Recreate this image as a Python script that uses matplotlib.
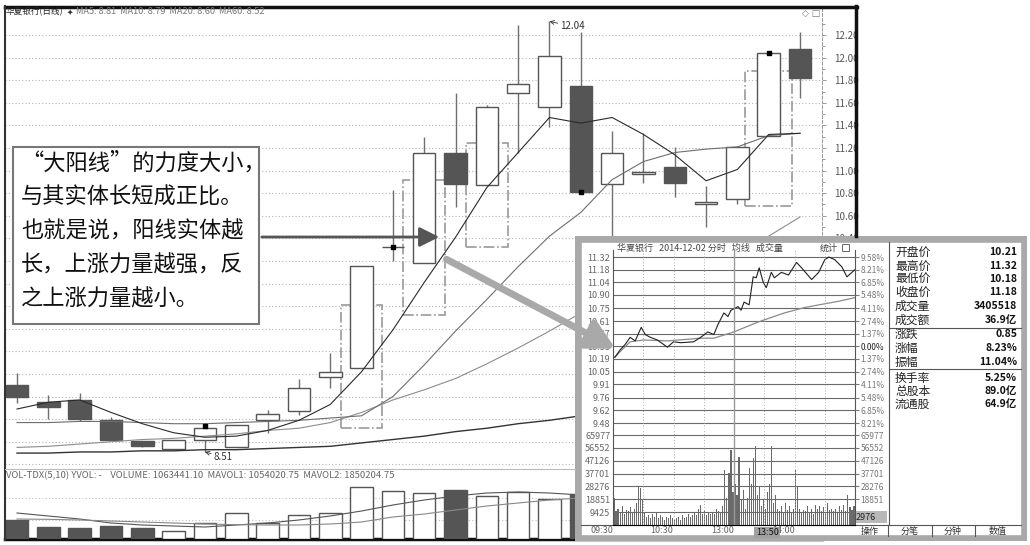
import numpy as np
import matplotlib.pyplot as plt
from matplotlib.patches import Rectangle, FancyArrowPatch

plt.rcParams['font.family'] = ['Noto Sans CJK SC', 'DejaVu Sans']
plt.rcParams['axes.unicode_minus'] = False

W, H = 1030, 545

# 华夏银行 日线
opens  = [9.10, 8.95, 8.97, 8.79, 8.61, 8.54, 8.62, 8.55, 8.79, 8.87, 9.17, 9.25, 10.32,
          10.18, 11.16, 10.87, 11.69, 11.56, 11.75, 10.88, 10.97, 11.03, 10.70, 10.75, 11.31, 12.08]
closes = [9.00, 8.91, 8.80, 8.62, 8.56, 8.62, 8.72, 8.75, 8.85, 9.08, 9.22, 10.16, 10.32,
          11.16, 10.88, 11.56, 11.77, 12.01, 10.81, 11.16, 10.99, 10.89, 10.72, 11.21, 12.04, 11.82]
highs  = [9.21, 9.01, 9.03, 8.82, 8.61, 8.62, 8.75, 8.75, 8.88, 9.16, 9.39, 10.16, 10.83,
          11.30, 11.69, 11.58, 12.29, 12.32, 12.23, 11.35, 11.33, 11.21, 10.86, 11.21, 12.04, 12.23]
lows   = [8.94, 8.80, 8.78, 8.62, 8.55, 8.54, 8.51, 8.55, 8.68, 8.84, 9.08, 9.25, 10.20,
          10.18, 10.68, 10.87, 11.16, 11.39, 10.81, 10.39, 10.89, 10.77, 10.50, 10.70, 11.31, 11.64]
ma5  = [8.89, 8.95, 8.97, 8.86, 8.76, 8.68, 8.64, 8.65, 8.70, 8.79, 8.93, 9.22, 9.59,
        10.01, 10.41, 10.85, 11.16, 11.47, 11.42, 11.47, 11.32, 11.14, 10.91, 11.01, 11.32, 11.33]
ma10 = [8.77, 8.77, 8.78, 8.78, 8.77, 8.76, 8.76, 8.77, 8.78, 8.79, 8.81, 8.83, 9.00,
        9.28, 9.58, 9.86, 10.15, 10.42, 10.63, 10.92, 11.08, 11.16, 11.19, 11.21, 11.31, 11.33]
ma20 = [8.55, 8.56, 8.58, 8.60, 8.62, 8.63, 8.65, 8.67, 8.70, 8.72, 8.77, 8.86, 8.97,
        9.06, 9.16, 9.29, 9.43, 9.58, 9.74, 9.87, 9.99, 10.09, 10.19, 10.28, 10.42, 10.59]
ma60 = [8.50, 8.50, 8.51, 8.51, 8.52, 8.52, 8.53, 8.53, 8.54, 8.55, 8.56, 8.59, 8.62,
        8.65, 8.69, 8.72, 8.76, 8.79, 8.83, 8.86, 8.90, 8.93, 8.97, 9.01, 9.04, 9.08]
price_ticks = [8.40, 8.60, 8.80, 9.00, 9.20, 9.40, 9.60, 9.80, 10.00, 10.20, 10.40,
               10.60, 10.80, 11.00, 11.20, 11.40, 11.60, 11.80, 12.00, 12.20]
# 虚线框 (对应K线序号, 下沿, 上沿)
box_idx = [11, 13, 15, 24]
box_lo = [8.72, 9.72, 10.32, 10.69]
box_hi = [9.81, 10.92, 11.24, 11.88]
dot_idx = [6, 12, 18, 24]
dot_val = [8.74, 10.32, 10.81, 12.04]

# 成交量 (万手)
vol = [114, 72, 66, 78, 66, 48, 96, 156, 96, 144, 156, 312, 288, 276, 294, 258, 282, 240,
       270, 240, 180, 168, 150, 144, 192, 106]
mavol1 = [156, 138, 120, 96, 84, 78, 72, 84, 96, 114, 138, 168, 204, 234, 258, 276, 282,
          276, 264, 250, 230, 210, 190, 180, 170, 160]
mavol2 = [120, 118, 114, 108, 102, 96, 90, 86, 84, 84, 90, 102, 132, 150, 174, 198, 216,
          234, 246, 252, 252, 246, 240, 234, 228, 222]

# 分时 2014-12-02
tick_min = [0, 2, 7, 12, 17, 22, 28, 32, 37, 44, 54, 60, 67, 80, 87, 94, 100, 104, 110, 114,
            117, 124, 127, 130, 135, 139, 142, 145, 149, 152, 157, 160, 167, 174, 182, 187,
            197, 204, 210, 214, 220, 227, 232, 237, 240]
tick_px = [10.21, 10.21, 10.29, 10.35, 10.43, 10.39, 10.54, 10.46, 10.43, 10.40, 10.32, 10.38,
           10.37, 10.38, 10.43, 10.49, 10.46, 10.57, 10.70, 10.66, 10.73, 10.77, 10.73, 10.82,
           10.79, 11.10, 11.09, 11.20, 11.04, 10.98, 11.15, 11.09, 11.15, 11.12, 11.26, 11.20,
           11.07, 11.15, 11.29, 11.32, 11.29, 11.21, 11.10, 11.15, 11.18]
avg_min = [2, 7, 17, 30, 54, 87, 100, 120, 144, 170, 190, 224, 240]
avg_px = [10.21, 10.27, 10.38, 10.40, 10.39, 10.42, 10.42, 10.49, 10.60, 10.70, 10.76, 10.83, 10.87]
# 每两分钟成交量 (手)
min_vol = [20, 10, 12, 9, 14, 8, 11, 10, 13, 9, 12, 16, 28, 27, 18, 9, 6, 7, 5, 8,
           6, 9, 5, 7, 6, 4, 6, 5, 7, 5, 4, 5, 6, 4, 7, 5, 6, 8, 6, 7,
           9, 7, 12, 15, 8, 10, 7, 9, 8, 9, 8, 12, 10, 9, 14, 40, 20, 38, 55, 24,
           30, 22, 50, 18, 26, 12, 20, 42, 30, 49, 58, 22, 28, 14, 18, 12, 24, 30, 58, 16,
           22, 12, 10, 14, 9, 16, 11, 14, 9, 12, 40, 28, 12, 9, 11, 10, 14, 9, 12, 8,
           15, 12, 14, 10, 13, 9, 16, 11, 12, 10, 12, 9, 14, 11, 15, 10, 22, 13, 11, 14]
in_ticks = [11.32, 11.18, 11.04, 10.90, 10.75, 10.61, 10.47, 10.33, 10.19, 10.05, 9.91, 9.76, 9.62, 9.48]
in_pct = ['9.58%', '8.21%', '6.85%', '5.48%', '4.11%', '2.74%', '1.37%', '0.00%',
          '1.37%', '2.74%', '4.11%', '5.48%', '6.85%', '8.21%']
in_vticks = [9425, 18851, 28276, 37701, 47126, 56552, 65977]
time_min = [0, 60, 120, 180]
time_lab = ['09:30', '10:30', '13:00', '14:00']
info_lab = ['开盘价', '最高价', '最低价', '收盘价', '成交量', '成交额',
            '涨跌', '涨幅', '振幅', '换手率', '总股本', '流通股']
info_val = ['10.21', '11.32', '10.18', '11.18', '3405518', '36.9亿',
            '0.85', '8.23%', '11.04%', '5.25%', '89.0亿', '64.9亿']

fig = plt.figure(figsize=(W / 100, H / 100), dpi=100)
fig.patch.set_facecolor('white')


def px_axes(x0, y0, x1, y1, **kw):
    return fig.add_axes([x0 / W, 1 - y1 / H, (x1 - x0) / W, (y1 - y0) / H], **kw)


DARK = '#555555'
# ---------- 主图 K线 ----------
ax = px_axes(5, 8, 822, 468)
n = len(opens)
x = np.arange(n)
o = np.array(opens); c = np.array(closes)
up = c >= o
bot = np.minimum(o, c)
hgt = np.maximum(np.abs(c - o), 0.006)
ax.vlines(x, lows, highs, color='#707070', lw=1, zorder=2)
ax.bar(x[up], hgt[up], bottom=bot[up], width=0.72, facecolor='white', edgecolor=DARK, lw=1, zorder=3)
ax.bar(x[~up], hgt[~up], bottom=bot[~up], width=0.72, facecolor=DARK, edgecolor=DARK, lw=1, zorder=3)
for i, lo, hi in zip(box_idx, box_lo, box_hi):
    w = 1.5 if i == 24 else 1.33
    ax.add_patch(Rectangle((i - w / 2, lo), w, hi - lo, fill=False, ec='#9a9a9a', lw=1.2,
                           ls='-.', zorder=2.5))
ax.plot(x, ma60, color='#333333', lw=1.0, zorder=4)
ax.plot(x, ma20, color='#8c8c8c', lw=0.8, zorder=4)
ax.plot(x, ma10, color='#6e6e6e', lw=0.8, zorder=4)
ax.plot(x, ma5, color='#2a2a2a', lw=0.8, zorder=4)
ax.scatter(dot_idx, dot_val, marker='s', s=5, color='black', zorder=5)
ax.annotate('12.04', xy=(17, highs[17]), xytext=(11, -5), textcoords='offset pixels',
            fontsize=7, color='#333333', va='center', ha='left',
            arrowprops=dict(arrowstyle='->', lw=0.6, color='#333333', shrinkA=0, shrinkB=0))
ax.annotate('8.51', xy=(6, lows[6]), xytext=(9, -5), textcoords='offset pixels',
            fontsize=7, color='#333333', va='center', ha='left',
            arrowprops=dict(arrowstyle='->', lw=0.6, color='#333333', shrinkA=0, shrinkB=0))
ax.set_xlim(-0.383, 25.70)
ax.set_ylim(8.368, 12.439)
ax.set_yticks(price_ticks)
ax.set_yticklabels(['%.2f' % v for v in price_ticks])
ax.set_yticks(np.arange(8.5, 12.4, 0.1), minor=True)
ax.yaxis.tick_right()
ax.tick_params(axis='y', which='both', length=3, width=0.6, color='#888888', pad=6,
               labelsize=7, labelcolor='#555555')
ax.tick_params(axis='y', which='minor', length=2)
ax.set_xticks([])
ax.grid(axis='y', color='#b5b5b5', ls=(0, (1, 2)), lw=0.8)
for s in ['top', 'left', 'bottom']:
    ax.spines[s].set_visible(False)
ax.spines['right'].set_color('#999999')
ax.spines['right'].set_linestyle((0, (3, 2)))
ax.spines['right'].set_linewidth(0.7)
ax.set_facecolor('none')

# ---------- 成交量 ----------
axv = px_axes(5, 482, 822, 539)
vv = np.array(vol)
axv.bar(x[up], vv[up], width=0.72, facecolor='white', edgecolor=DARK, lw=1, zorder=3)
axv.bar(x[~up], vv[~up], width=0.72, facecolor=DARK, edgecolor=DARK, lw=1, zorder=3)
axv.plot(x, mavol1, color='#555555', lw=0.8, zorder=4)
axv.plot(x, mavol2, color='#888888', lw=0.8, zorder=4)
axv.set_xlim(-0.383, 25.70)
axv.set_ylim(0, 342)
axv.set_yticks([114, 246])
axv.grid(axis='y', color='#c0c0c0', ls=(0, (1, 2)), lw=0.8)
axv.tick_params(length=0, labelleft=False, labelbottom=False)
for s in ['top', 'left', 'right']:
    axv.spines[s].set_visible(False)
axv.spines['bottom'].set_linewidth(2.5)
axv.spines['bottom'].set_color('#111111')
axv.set_facecolor('none')

# ---------- 分时小窗 ----------
axf = px_axes(575, 236, 1027, 541, zorder=8)
axf.set_xlim(575, 1027); axf.set_ylim(541, 236)
axf.axis('off')
axf.add_patch(Rectangle((577.5, 238.5), 447, 300, fc='white', ec='#a9a9a9', lw=5.5))
axf.text(617, 248, '华夏银行   2014-12-02 分时   均线   成交量', fontsize=6.5, color='#444444', va='center')
axf.text(820, 248, '统计', fontsize=6.5, color='#444444', va='center')
axf.add_patch(Rectangle((842, 244), 7, 7, fill=False, ec='#666666', lw=0.7))
axf.plot([889, 889], [242, 525], color='#555555', lw=0.8)
axf.plot([889, 1021], [328, 328], color='#555555', lw=0.8)
axf.plot([889, 1021], [369, 369], color='#555555', lw=0.8)
axf.plot([581, 1021], [525, 525], color='#555555', lw=0.8)
for xs in [888, 932, 975]:
    axf.plot([xs, xs], [525, 536], color='#555555', lw=0.8)
for lab, xs in zip(['操作', '分笔', '分钟', '数值'], [870, 910, 953, 998]):
    axf.text(xs, 531, lab, fontsize=6.5, color='#333333', ha='center', va='center')
info_y = [252, 266, 279, 292, 306, 320, 334, 348, 362, 378, 391, 404]
for lab, val, yy in zip(info_lab, info_val, info_y):
    axf.text(895, yy, lab, fontsize=8.5, color='#222222', va='center')
    axf.text(1017, yy, val, fontsize=7.5, color='#111111', va='center', ha='right', fontweight='bold')
axf.add_patch(Rectangle((853, 511), 34, 12, fc='#b8b8b8', ec='none'))
axf.text(856, 517, '2976', fontsize=6.5, color='#222222', va='center')

axi = px_axes(613, 250, 855, 429, zorder=9)
axi.plot(avg_min, avg_px, color='#8a8a8a', lw=0.9)
axi.plot(tick_min, tick_px, color='#222222', lw=0.8)
axi.set_xlim(0, 240)
axi.set_ylim(9.4135, 11.3976)
axi.set_yticks(in_ticks)
axi.set_yticklabels(['%.2f' % v for v in in_ticks])
axi.tick_params(axis='y', length=0, pad=2, labelsize=6.5, labelcolor='#666666')
axi.set_xticks([])
axi.grid(axis='y', color='#6a6a6a', lw=0.8)
for m in [30, 60, 90, 150, 180, 210]:
    axi.axvline(m, color='#aaaaaa', ls=(0, (1, 2)), lw=0.7)
axi.axvline(120, color='#999999', lw=1.0)
axi.set_facecolor('none')
for s in ['top', 'bottom']:
    axi.spines[s].set_visible(False)
axi.spines['left'].set_color('#555555')
axi.spines['right'].set_color('#555555')
axr = axi.twinx()
axr.set_ylim(axi.get_ylim())
axr.set_yticks(in_ticks)
axr.set_yticklabels(in_pct)
axr.tick_params(axis='y', length=3, pad=1, labelsize=6, labelcolor='#777777', color='#777777')
for lbl in axr.get_yticklabels():
    if lbl.get_text() == '0.00%':
        lbl.set_color('#222222')
for s in ['top', 'bottom', 'left', 'right']:
    axr.spines[s].set_visible(False)

axiv = px_axes(613, 429, 855, 525, zorder=9)
mv = np.arange(len(min_vol)) * 2 + 1
axiv.bar(mv, np.array(min_vol) * 1000, width=1.1, color='#6a6a6a')
axiv.set_xlim(0, 240)
axiv.set_ylim(0, 70378)
axiv.set_yticks(in_vticks)
axiv.set_yticklabels([str(v) for v in in_vticks])
axiv.tick_params(axis='y', length=0, pad=2, labelsize=6.5, labelcolor='#666666')
axiv.set_xticks(time_min)
axiv.set_xticklabels(time_lab, ha='right')
axiv.tick_params(axis='x', length=0, pad=1, labelsize=6.5, labelcolor='#666666')
axiv.grid(axis='y', color='#6a6a6a', lw=0.8)
for m in [30, 60, 90, 150, 180, 210]:
    axiv.axvline(m, color='#aaaaaa', ls=(0, (1, 2)), lw=0.7)
axiv.axvline(120, color='#999999', lw=1.0)
axiv.set_facecolor('none')
axiv.spines['top'].set_visible(False)
axiv.spines['left'].set_color('#555555')
axiv.spines['right'].set_color('#555555')
axvr = axiv.twinx()
axvr.set_ylim(axiv.get_ylim())
axvr.set_yticks(in_vticks[1:])
axvr.set_yticklabels([str(v) for v in in_vticks[1:]])
axvr.tick_params(axis='y', length=3, pad=1, labelsize=6, labelcolor='#777777', color='#777777')
for s in ['top', 'bottom', 'left', 'right']:
    axvr.spines[s].set_visible(False)
# 光标时间框, 盖住 14:00 的前半
axiv.text(153, -5600, '13:50', fontsize=6.5, color='#111111', ha='center', va='center',
          bbox=dict(boxstyle='square,pad=0.15', fc='#a0a0a0', ec='none'))

# ---------- 叠加层: 边框, 文字框, 箭头 ----------
axo = px_axes(0, 0, W, H, zorder=20)
axo.set_xlim(0, W); axo.set_ylim(H, 0)
axo.axis('off')
axo.plot([5, 857], [7, 7], color='#111111', lw=2.5)
axo.plot([5, 5], [6, 540], color='#333333', lw=1.5)
axo.plot([856, 856], [6, 236], color='#111111', lw=2.5)
axo.plot([5, 575], [469, 469], color='#bbbbbb', lw=0.8)
axo.text(6, 12, '华夏银行(日线)', fontsize=6.2, color='#222222', va='center')
axo.text(67, 12, '✦', fontsize=5.5, color='#333333', va='center', family='DejaVu Sans')
axo.text(76, 12, 'MA5: 8.81  MA10: 8.79  MA20: 8.60  MA60: 8.52', fontsize=6.6,
         color='#777777', va='center')
axo.text(802, 13, '◇ □', fontsize=6.5, color='#777777', va='center', family='DejaVu Sans')
axo.text(6, 476, 'VOL-TDX(5,10) YVOL: -    VOLUME: 1063441.10  MAVOL1: 1054020.75  MAVOL2: 1850204.75',
         fontsize=6.8, color='#666666', va='center')

axo.add_patch(Rectangle((13, 147), 246, 177, fc='white', ec='#777777', lw=1.5))
lines = ['“大阳线”的力度大小，', '与其实体长短成正比。', '也就是说，阳线实体越',
         '长，上涨力量越强，反', '之上涨力量越小。']
for k, t in enumerate(lines):
    axo.text(21, 163 + k * 34, t, fontsize=16, color='#111111', va='center', ha='left')
axo.add_patch(FancyArrowPatch((259, 237), (442, 237), arrowstyle='-|>,head_length=12,head_width=6',
                              mutation_scale=1, color='#555555', lw=2))
axo.add_patch(FancyArrowPatch((444, 258), (618, 350), arrowstyle='-|>,head_length=17,head_width=9',
                              mutation_scale=1, color='#a9a9a9', lw=5))

fig.savefig('out.png', dpi=100)
